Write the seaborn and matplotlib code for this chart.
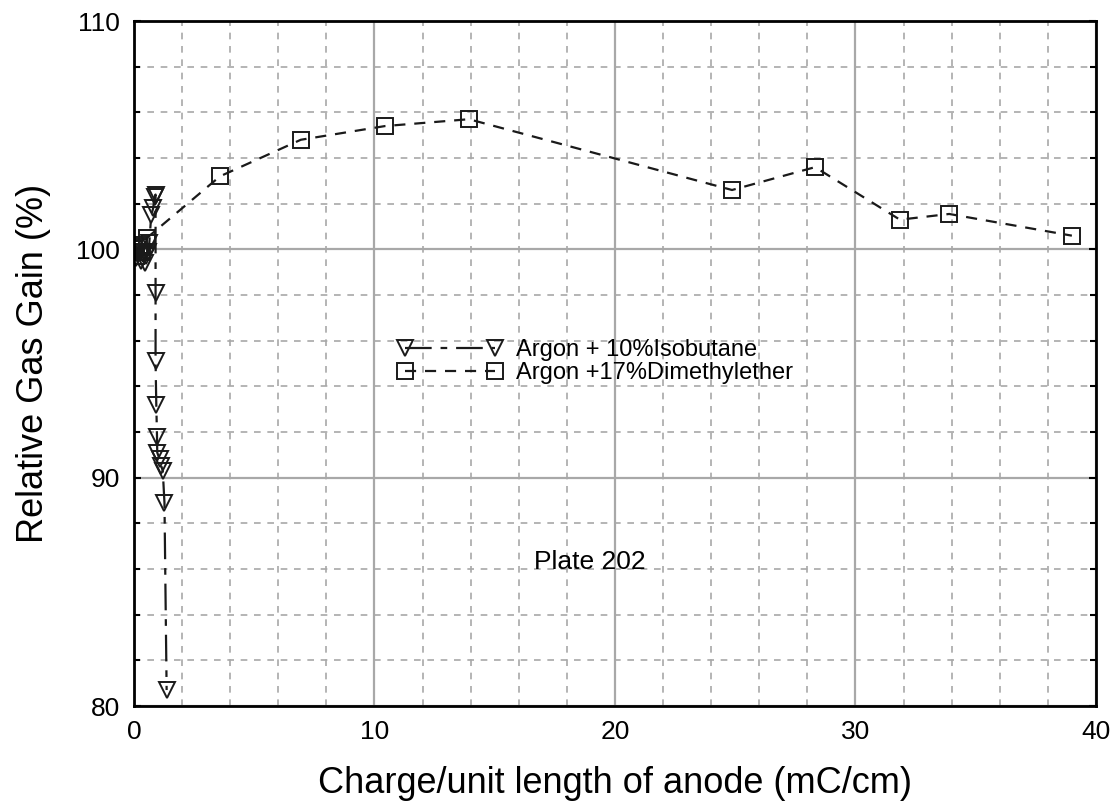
import matplotlib
matplotlib.use("Agg")
import matplotlib.pyplot as plt
from matplotlib.ticker import MultipleLocator
import seaborn as sns
import pandas as pd

# Argon + 10% Isobutane
iso_charge = [0.00, 0.08, 0.15, 0.22, 0.30, 0.36, 0.44, 0.52, 0.58, 0.64,
              0.72, 0.80, 0.86, 0.90, 0.90, 0.90, 0.93, 0.96, 0.97, 1.07,
              1.14, 1.20, 1.27, 1.36]
iso_gain = [100.0, 99.6, 99.9, 100.1, 99.5, 99.8, 99.4, 99.7, 99.9, 100.3,
            101.5, 101.8, 102.3, 102.4, 98.1, 95.1, 93.2, 91.8, 91.1, 90.8,
            90.5, 90.3, 88.9, 80.7]

# Argon + 17% Dimethylether
dme_charge = [0.00, 0.10, 0.20, 0.32, 0.54, 3.58, 6.94, 10.44, 13.93,
              24.87, 28.32, 31.85, 33.90, 39.00]
dme_gain = [100.0, 99.7, 100.2, 99.9, 100.5, 103.2, 104.8, 105.4, 105.7,
            102.6, 103.6, 101.3, 101.55, 100.6]

x_ticks = [0, 10, 20, 30, 40]
y_ticks = [80, 90, 100, 110]

sns.set_style("white")
plt.rcParams["font.family"] = ["Liberation Sans", "DejaVu Sans"]
plt.rcParams["text.color"] = "black"
plt.rcParams["axes.labelcolor"] = "black"
plt.rcParams["xtick.color"] = "black"
plt.rcParams["ytick.color"] = "black"

fig = plt.figure(figsize=(11.16, 8.09), dpi=100)
ax = fig.add_axes([0.120, 0.1273, 0.862, 0.8467])

iso = pd.DataFrame({"charge": iso_charge, "gain": iso_gain})
dme = pd.DataFrame({"charge": dme_charge, "gain": dme_gain})

line_col = "#1a1a1a"
sns.lineplot(data=iso, x="charge", y="gain", sort=False, estimator=None, ax=ax,
             color=line_col, lw=1.6, marker="v", markersize=12,
             mfc="none", mec=line_col, mew=1.4, label="Argon + 10%Isobutane")
ax.lines[-1].set_dashes([12, 4, 3, 4])
sns.lineplot(data=dme, x="charge", y="gain", sort=False, estimator=None, ax=ax,
             color=line_col, lw=1.6, marker="s", markersize=12,
             mfc="none", mec=line_col, mew=1.4, label="Argon +17%Dimethylether")
ax.lines[-1].set_dashes([5, 4])

ax.set_xlim(0, 40)
ax.set_ylim(80, 110)
ax.set_xticks(x_ticks)
ax.set_yticks(y_ticks)
ax.xaxis.set_minor_locator(MultipleLocator(2))
ax.yaxis.set_minor_locator(MultipleLocator(2))

ax.grid(True, which="major", color="#a8a8a8", lw=1.6, ls="-")
ax.grid(True, which="minor", color="#a8a8a8", lw=1.2, ls=(0, (4, 4)))
ax.set_axisbelow(True)

for s in ax.spines.values():
    s.set_visible(True)
    s.set_color("black")
    s.set_linewidth(2.0)

ax.tick_params(axis="both", which="major", direction="in", length=5, width=1.5,
               labelsize=19, colors="black", pad=10, right=True, left=True,
               bottom=False, top=False)
ax.tick_params(axis="y", which="minor", direction="in", length=4, width=1.5,
               left=True, right=True)
ax.tick_params(axis="x", which="minor", bottom=False, top=False)

ax.set_xlabel("Charge/unit length of anode (mC/cm)", fontsize=26, labelpad=16,
              color="black")
ax.set_ylabel("Relative Gas Gain (%)", fontsize=26, labelpad=18, color="black")

ax.text(18.96, 86.3, "Plate 202", fontsize=19, ha="center", va="center",
        color="black")

leg = ax.legend(loc="upper left", bbox_to_anchor=(0.262, 0.553), frameon=False,
                fontsize=17, handlelength=4.4, handletextpad=0.6, numpoints=2,
                labelspacing=0.05, borderpad=0)
for t in leg.get_texts():
    t.set_color("black")

fig.savefig("out.png", dpi=100)
